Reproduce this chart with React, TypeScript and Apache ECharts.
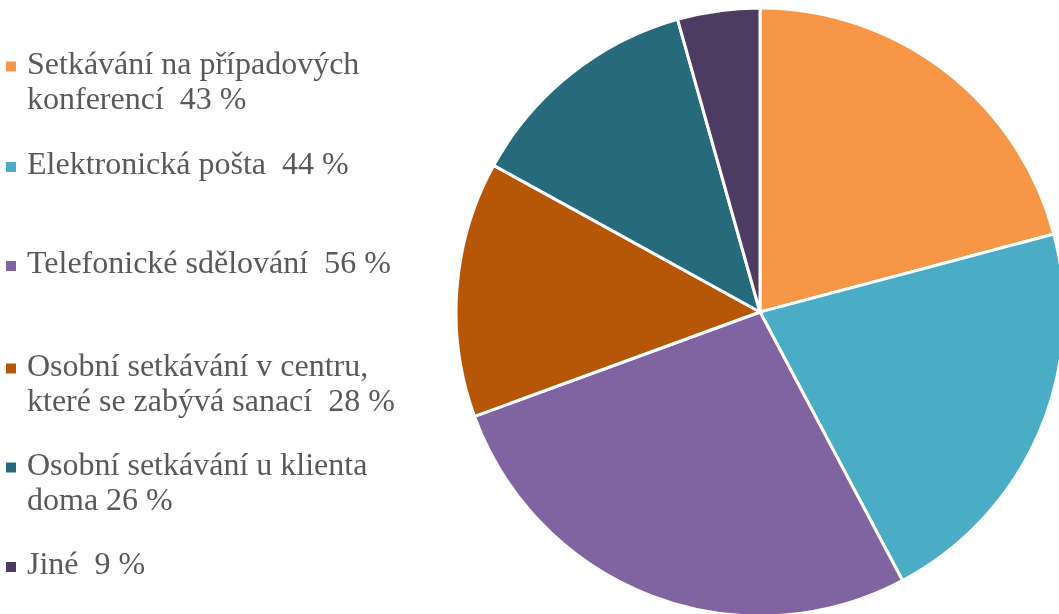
import React, { useEffect, useRef } from "react";
import * as echarts from "echarts";

const categories = [
  "Setkávání na případových\nkonferencí",
  "Elektronická pošta",
  "Telefonické sdělování",
  "Osobní setkávání v centru,\nkteré se zabývá sanací",
  "Osobní setkávání u klienta\ndoma",
  "Jiné",
];
const values = [43, 44, 56, 28, 26, 9];
const separators = ["  ", "  ", "  ", "  ", " ", "  "];
const colors = ["#F79646", "#4BACC6", "#8064A2", "#B65708", "#276A7C", "#4E3B62"];
const legendCenters = [66, 167, 266, 368, 467, 567];

export default function App() {
  const ref = useRef<HTMLDivElement>(null);
  useEffect(() => {
    if (!ref.current) return;
    const chart = echarts.init(ref.current, undefined, { renderer: "svg" });
    const boxH = 80;
    const lh = 35;
    const legends = categories.map((name, i) => {
      const twoLine = name.includes("\n");
      const sqTop = twoLine ? boxH / 2 - lh / 2 - 1 : boxH / 2 - 1;
      return {
        orient: "vertical",
        left: 6,
        top: Math.round(legendCenters[i] - sqTop - 5),
        padding: 0,
        itemWidth: 22,
        itemHeight: boxH,
        selectedMode: false,
        icon: `path://M0,0M0,${sqTop}h10v10h-10zM0,${boxH}`,
        itemStyle: { borderWidth: 0 },
        data: [name],
        formatter: (n: string) => {
          const idx = categories.indexOf(n);
          return `${n}${separators[idx]}${values[idx]} %`;
        },
        textStyle: { fontFamily: "serif", fontSize: 32, lineHeight: 35, color: "#595959" },
      };
    });
    chart.setOption({
      animation: false,
      textStyle: { fontFamily: "serif" },
      color: colors,
      legend: legends,
      series: [
        {
          type: "pie",
          center: [760, 312],
          radius: [0, 304],
          startAngle: 90,
          clockwise: true,
          label: { show: false },
          labelLine: { show: false },
          itemStyle: { borderColor: "#ffffff", borderWidth: 3 },
          data: categories.map((name, i) => ({ name, value: values[i] })),
        },
      ],
    });
    return () => chart.dispose();
  }, []);
  return <div ref={ref} style={{ position: "fixed", left: 0, top: 0, width: 1059, height: 614 }} />;
}
